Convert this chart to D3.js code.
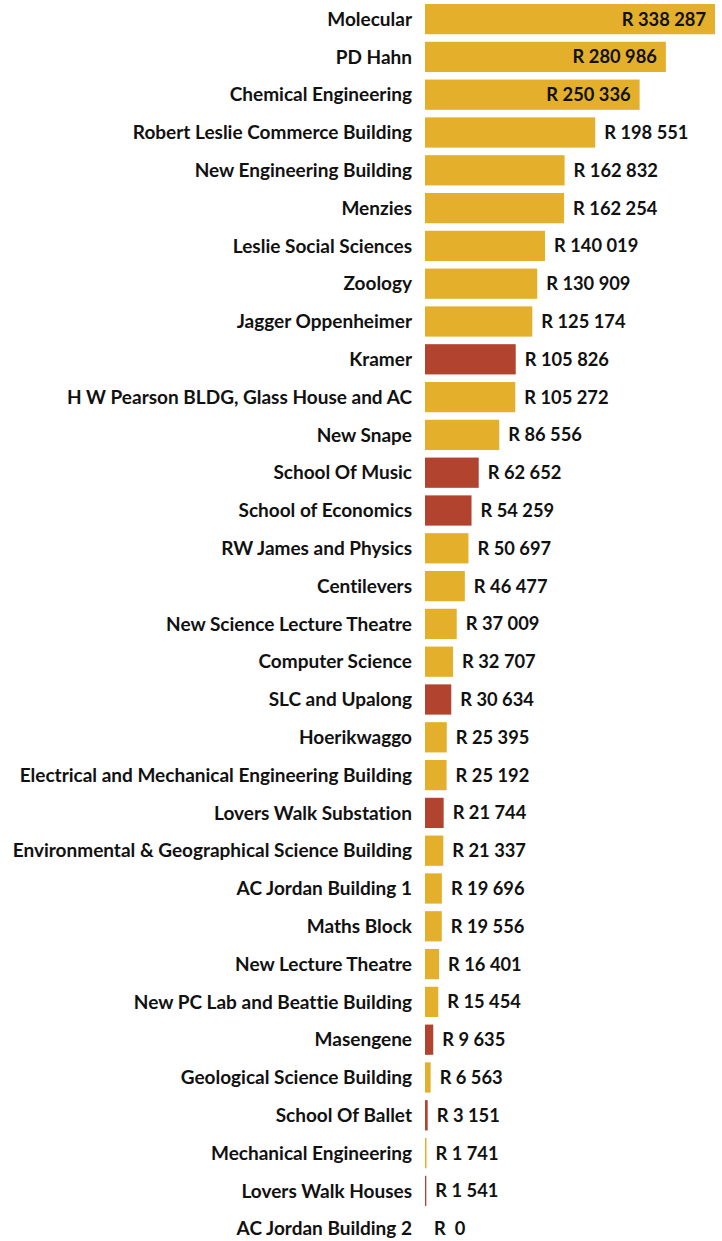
<!DOCTYPE html>
<html>
<head>
<meta charset="utf-8">
<script src="https://cdn.jsdelivr.net/npm/d3@7"></script>
<style>
  body { margin: 0; background: #fff; }
  text { font-family: Lato, "Open Sans", sans-serif; font-weight: bold; fill: #111;
         font-variant-ligatures: none; }
</style>
</head>
<body>
<div id="chart"></div>
<script>
var buildings = ["Molecular","PD Hahn","Chemical Engineering","Robert Leslie Commerce Building",
  "New Engineering Building","Menzies","Leslie Social Sciences","Zoology","Jagger Oppenheimer",
  "Kramer","H W Pearson BLDG, Glass House and AC","New Snape","School Of Music","School of Economics",
  "RW James and Physics","Centilevers","New Science Lecture Theatre","Computer Science","SLC and Upalong",
  "Hoerikwaggo","Electrical and Mechanical Engineering Building","Lovers Walk Substation",
  "Environmental & Geographical Science Building","AC Jordan Building 1","Maths Block",
  "New Lecture Theatre","New PC Lab and Beattie Building","Masengene","Geological Science Building",
  "School Of Ballet","Mechanical Engineering","Lovers Walk Houses","AC Jordan Building 2"];

var costs = [338287,280986,250336,198551,162832,162254,140019,130909,125174,105826,105272,86556,
  62652,54259,50697,46477,37009,32707,30634,25395,25192,21744,21337,19696,19556,16401,15454,
  9635,6563,3151,1741,1541,0];

// "res" = red bars, "acad" = gold bars
var kinds = ["acad","acad","acad","acad","acad","acad","acad","acad","acad","res","acad","acad",
  "res","res","acad","acad","acad","acad","res","acad","acad","res","acad","acad","acad","acad",
  "acad","res","acad","res","acad","res","acad"];

var data = buildings.map(function(b,i){ return {name:b, value:costs[i], kind:kinds[i]}; });

var width = 722, height = 1241;
var x0 = 425;

var svg = d3.select("#chart").append("svg")
  .attr("width", width).attr("height", height);

var x = d3.scaleLinear().domain([0, 338287]).range([x0, 715]);
var y = d3.scaleBand().domain(buildings).range([0.2, 1247.6])
  .paddingInner(0.2).paddingOuter(0.1);
var color = d3.scaleOrdinal().domain(["acad","res"]).range(["#e4af2a","#b1432f"]);

var fmt = function(v){ return "R " + (v === 0 ? " 0" : d3.format(",")(v).replace(/,/g, " ")); };

svg.selectAll(".bar").data(data).enter().append("rect")
  .attr("class","bar")
  .attr("x", x0)
  .attr("y", function(d){ return y(d.name); })
  .attr("width", function(d){ return Math.max(0, x(d.value) - x0); })
  .attr("height", y.bandwidth())
  .attr("fill", function(d){ return color(d.kind); });

svg.selectAll(".lbl").data(data).enter().append("text")
  .attr("class","lbl")
  .attr("x", 412)
  .attr("y", function(d){ return y(d.name) + y.bandwidth()/2; })
  .attr("dy", "0.35em")
  .attr("text-anchor","end")
  .attr("font-size", 19)
  .text(function(d){ return d.name; });

svg.selectAll(".val").data(data).enter().append("text")
  .attr("class","val")
  .style("white-space","pre")
  .attr("x", function(d){ return d.value > 200000 ? x(d.value) - 9 : x(d.value) + 9; })
  .attr("y", function(d){ return y(d.name) + y.bandwidth()/2; })
  .attr("dy", "0.35em")
  .attr("text-anchor", function(d){ return d.value > 200000 ? "end" : "start"; })
  .attr("font-size", 18.3)
  .text(function(d){ return fmt(d.value); });
</script>
</body>
</html>
